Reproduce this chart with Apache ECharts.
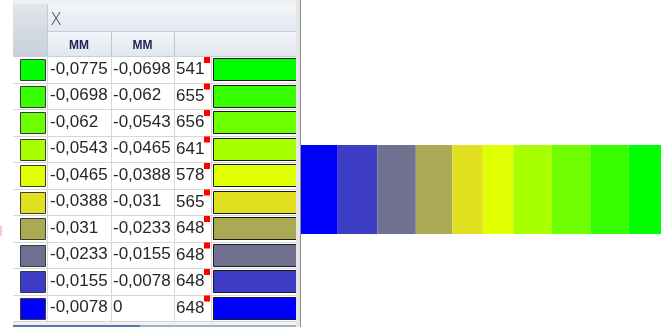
<!DOCTYPE html>
<html>
<head>
<meta charset="utf-8">
<script src="https://cdn.jsdelivr.net/npm/echarts@6/dist/echarts.min.js"></script>
<style>html,body{margin:0;padding:0;background:#fff;}#c{width:664px;height:327px;}</style>
</head>
<body>
<div id="c"></div>
<script>
// ---- data ----
const rowColors = ['#00ff00','#38ff00','#6cff00','#a8ff00','#e0ff00','#e0e020','#aaaa55','#707090','#3c3cc4','#0000ff'];
const rangeFrom = [-0.0775,-0.0698,-0.062,-0.0543,-0.0465,-0.0388,-0.031,-0.0233,-0.0155,-0.0078];
const rangeTo   = [-0.0698,-0.062,-0.0543,-0.0465,-0.0388,-0.031,-0.0233,-0.0155,-0.0078,0];
const counts    = [541,655,656,641,578,565,648,648,648,648];
const headerLabel = 'X';
const unitLabels = ['MM','MM'];
// contour strip, left to right: band widths and colours
const stripWidths = [37.7,39.6,38.4,36.6,30.4,30.6,38.4,38.3,38.3,32.4];
const stripColors = ['#0000ff','#3c3cc4','#707090','#aaaa55','#e0e020','#e0ff00','#a8ff00','#70ff00','#38ff00','#00ff00'];

// ---- layout constants ----
const COL = [0, 34, 98, 161, 198, 284]; // column edges relative to table left
const FONT = 'Liberation Sans';
const fmt = v => String(v).replace('.', ',');

const chart = echarts.init(document.getElementById('c'), null, {renderer:'canvas'});
const stripTotal = stripWidths.reduce((a,b)=>a+b,0);

const tableSeries = {
  type: 'custom',
  xAxisIndex: 0, yAxisIndex: 0,
  coordinateSystem: 'cartesian2d',
  silent: true,
  data: rowColors.map((c,i)=>[0,i]),
  renderItem: function(params, api){
    const i = api.value(1);
    const top = api.coord([0, i])[1];
    const bottom = api.coord([0, i+1])[1];
    const h = bottom - top;
    const cy = top + h/2;
    const X = c => api.coord([c, i])[0];
    const lc = '#d6d6d6';
    const ch = [];
    ch.push({type:'rect', shape:{x:Math.round(X(7))+0.5, y:Math.round(top+3)+0.5, width:25, height:Math.round(h-6)}, style:{fill:rowColors[i], stroke:'#3a3a3a', lineWidth:1}});
    ch.push({type:'text', x:X(COL[1])+3, y:cy, style:{text:fmt(rangeFrom[i]), font:'17px '+FONT, fill:'#262626', verticalAlign:'middle', align:'left'}});
    ch.push({type:'text', x:X(COL[2])+2, y:cy, style:{text:fmt(rangeTo[i]), font:'17px '+FONT, fill:'#262626', verticalAlign:'middle', align:'left'}});
    ch.push({type:'text', x:X(COL[3])+2, y:cy+0.5, style:{text:String(counts[i]), font:'17px '+FONT, fill:'#262626', verticalAlign:'middle', align:'left'}});
    ch.push({type:'rect', shape:{x:X(191), y:top+1, width:6, height:6}, style:{fill:'#ff0000'}});
    ch.push({type:'rect', shape:{x:Math.round(X(COL[4]+2))+0.5, y:Math.round(top+2)+0.5, width:84, height:Math.round(h-5)}, style:{fill:rowColors[i], stroke:'#1a1a1a', lineWidth:1}});
    ch.push({type:'line', shape:{x1:X(0), y1:Math.round(bottom)+0.5, x2:X(COL[5]), y2:Math.round(bottom)+0.5}, style:{stroke:lc, lineWidth:1}});
    [COL[1],COL[2],COL[3],COL[4]].forEach(c=>{
      const xx = Math.round(X(c))+0.5;
      ch.push({type:'line', shape:{x1:xx, y1:top, x2:xx, y2:bottom}, style:{stroke:lc, lineWidth:1}});
    });
    return {type:'group', children: ch};
  }
};

const stripSeries = stripWidths.map((w,k)=>({
  type:'bar', stack:'strip', xAxisIndex:1, yAxisIndex:1,
  data:[w], barWidth:'100%', silent:true,
  itemStyle:{color:stripColors[k]}
}));

const grad = (a,b)=>new echarts.graphic.LinearGradient(0,0,0,1,[{offset:0,color:a},{offset:1,color:b}]);

const option = {
  animation:false,
  textStyle:{fontFamily:FONT},
  grid:[
    {left:13, top:56, width:284, height:265},
    {left:300, top:145, width:361, height:89}
  ],
  xAxis:[
    {gridIndex:0, type:'value', min:0, max:284, show:false},
    {gridIndex:1, type:'value', min:0, max:stripTotal, show:false}
  ],
  yAxis:[
    {gridIndex:0, type:'value', min:0, max:10, inverse:true, show:false},
    {gridIndex:1, type:'category', data:['strip'], show:false}
  ],
  graphic:[
    {type:'rect', z:1, shape:{x:13, y:0, width:284, height:4}, style:{fill:'#f0f0f0'}},
    {type:'rect', z:1, shape:{x:13, y:4, width:34, height:52}, style:{fill:grad('#e2e6ec','#c8d0d9')}},
    {type:'rect', z:1, shape:{x:47, y:4, width:249, height:27}, style:{fill:grad('#f2f5f9','#e5eaf1')}},
    {type:'rect', z:1, shape:{x:47, y:32, width:249, height:24}, style:{fill:grad('#f2f5f9','#e2e8ef')}},
    {type:'line', z:2, shape:{x1:47, y1:31.5, x2:296, y2:31.5}, style:{stroke:'#c2cfdc', lineWidth:1}},
    {type:'line', z:2, shape:{x1:47.5, y1:4, x2:47.5, y2:56}, style:{stroke:'#c2cbd6', lineWidth:1}},
    {type:'line', z:2, shape:{x1:111.5, y1:32, x2:111.5, y2:56}, style:{stroke:'#b9c9d9', lineWidth:1}},
    {type:'line', z:2, shape:{x1:174.5, y1:32, x2:174.5, y2:56}, style:{stroke:'#b9c9d9', lineWidth:1}},
    {type:'line', z:2, shape:{x1:13, y1:56.5, x2:296, y2:56.5}, style:{stroke:'#c8d0d8', lineWidth:1}},
    {type:'text', z:3, x:56, y:21, style:{text:headerLabel, font:'200 17px DejaVu Sans', fill:'#444', align:'center', verticalAlign:'middle'}},
    {type:'text', z:3, x:79, y:46, style:{text:unitLabels[0], font:'bold 12px '+FONT, fill:'#1c2452', align:'center', verticalAlign:'middle'}},
    {type:'text', z:3, x:142.5, y:46, style:{text:unitLabels[1], font:'bold 12px '+FONT, fill:'#1c2452', align:'center', verticalAlign:'middle'}},
    {type:'rect', z:20, shape:{x:296, y:0, width:4, height:327}, style:{fill:'#e6e6e6'}},
    {type:'line', z:20, shape:{x1:300.5, y1:0, x2:300.5, y2:327}, style:{stroke:'#8c8c8c', lineWidth:1}},
    {type:'rect', z:20, shape:{x:13, y:322, width:283, height:3}, style:{fill:'#f0f0f0'}},
    {type:'rect', z:20, shape:{x:13, y:325, width:127, height:2}, style:{fill:'#5a78a8'}},
    {type:'rect', z:20, shape:{x:140, y:325, width:156, height:2}, style:{fill:'#9fb0c9'}},
    {type:'rect', z:20, shape:{x:0, y:226, width:2, height:10}, style:{fill:'#ffc8c8'}}
  ],
  series:[tableSeries].concat(stripSeries)
};
chart.setOption(option);
</script>
</body>
</html>
